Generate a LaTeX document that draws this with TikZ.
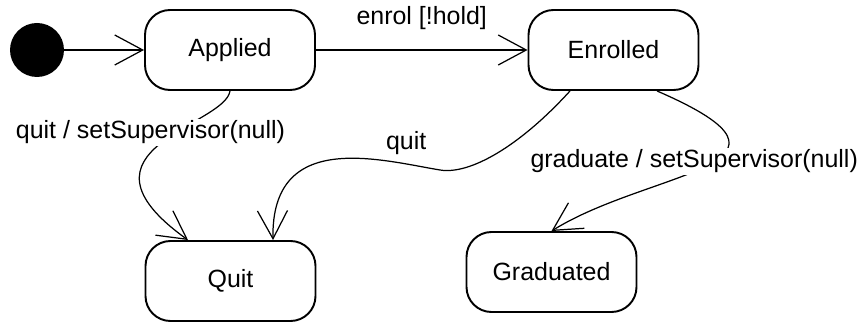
\documentclass[tikz,border=0pt]{standalone}
\usepackage{fontspec}
\setmainfont{Liberation Sans}
\usetikzlibrary{arrows.meta, positioning, calc}

\begin{document}
\begin{tikzpicture}[
    state/.style={
        rectangle, draw, line width=1.1pt, rounded corners=0.5cm,
        minimum width=3.4cm, minimum height=1.6cm, inner sep=0pt,
        font=\fontsize{14.2}{17}\selectfont
    },
    initdot/.style={circle, fill=black, minimum size=1.08cm, inner sep=0pt},
    trans/.style={-{Straight Barb[length=0.56cm, width=0.6cm]}, line width=0.7pt},
    lbl/.style={font=\fontsize{14.2}{17}\selectfont, inner sep=1pt}
]
\useasboundingbox (0,0) rectangle (17.3,-6.5);

\node[initdot] (init) at (0.74,-1.0) {};
\node[state] (applied) at (4.6,-1.0) {Applied};
\node[state] (enrolled) at (12.27,-1.0) {Enrolled};
\node[state] (quit) at (4.61,-5.62) {Quit};
\node[state] (graduated) at (11.03,-5.44) {Graduated};

% low point of the Enrolled -> Quit curve
\coordinate (dip) at (8.8,-3.4);

\draw[trans] (init) -- (applied);
\draw[trans] (applied) -- node[lbl, above=0.36cm]{enrol [!hold]} (enrolled);
\draw[trans] (applied.south) .. controls +(-0.1,-0.7) and +(-2.54,1.82) ..
      node[lbl, pos=0.4, xshift=-0.52cm, fill=white]{quit / setSupervisor(null)} ([xshift=-0.85cm]quit.north);
\draw[trans] ([xshift=-0.87cm]enrolled.south) .. controls +(-1.0,-1.1) and +(0.6,-0.1) .. (dip)
      .. controls +(-1.2,0.2) and +(-0.04,2.22) ..
      node[lbl, pos=0.15, xshift=-0.08cm, above=0.16cm]{quit} ([xshift=0.85cm]quit.north);
\draw[trans] ([xshift=0.87cm]enrolled.south) .. controls +(3.46,-1.5) and +(1.96,1.22) ..
      node[lbl, pos=0.42, xshift=-0.52cm, yshift=-0.08cm, fill=white]{graduate / setSupervisor(null)} (graduated.north);

\end{tikzpicture}
\end{document}
